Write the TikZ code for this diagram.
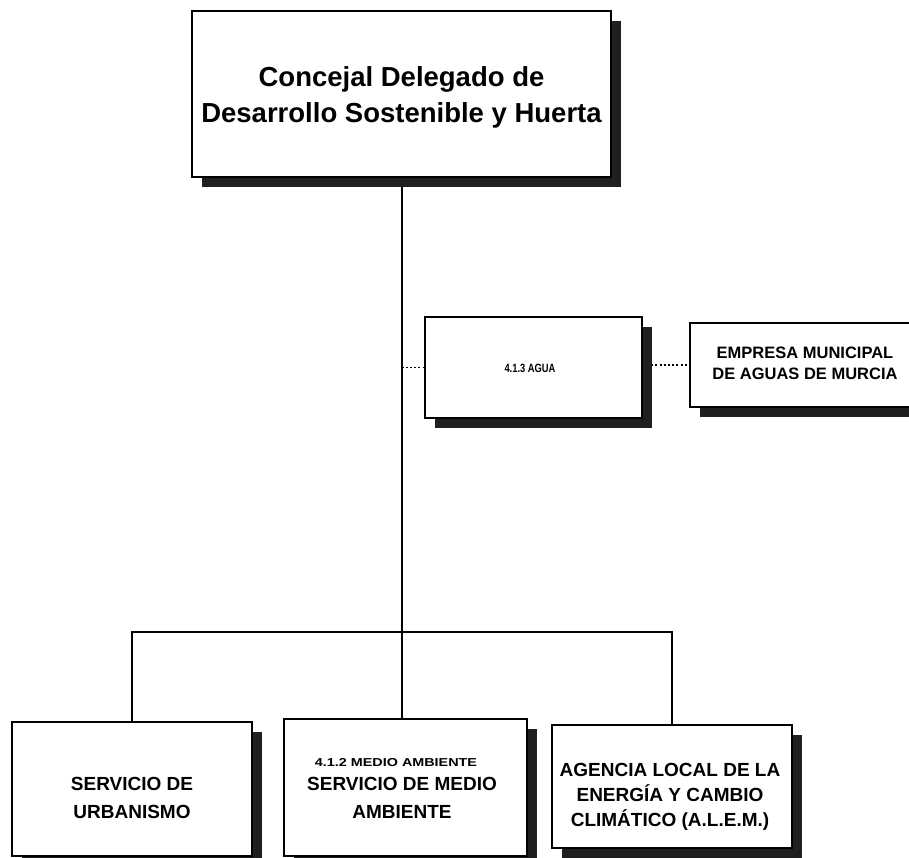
\documentclass[tikz,border=0pt]{standalone}
\usepackage{fontspec}
\usepackage{graphicx}
\setmainfont{Liberation Sans}
\usetikzlibrary{shadows,backgrounds}
\begin{document}
\begin{tikzpicture}[x=1pt,y=-1pt,
  box/.style={draw=black, line width=1.6pt, fill=white, inner sep=0pt,
     drop shadow={shadow xshift=10pt, shadow yshift=-10pt, fill=black!88, opacity=1}},
  txt/.style={inner sep=0pt, align=center, font=\bfseries},
  link/.style={line width=2pt},
  dotlink/.style={line width=1.8pt, dash pattern=on 2pt off 2.2pt}]
\useasboundingbox (0,0) rectangle (909,858);
\clip (0,0) rectangle (909,858);

% boxes
\node[box, minimum width=419pt, minimum height=166pt] (top) at (401.5,94) {};
\node[box, minimum width=217pt, minimum height=101pt] (agua) at (533.5,367.5) {};
\node[box, minimum width=226pt, minimum height=84pt] (emp) at (803,365) {};
\node[box, minimum width=240pt, minimum height=134pt] (b1) at (132,789) {};
\node[box, minimum width=243pt, minimum height=137pt] (b2) at (405.5,787.5) {};
\node[box, minimum width=240pt, minimum height=123pt] (b3) at (672,786.5) {};

% texts
\node[txt, font=\bfseries\fontsize{27.5}{36}\selectfont] (ttop) at (401.5,97)
  {Concejal Delegado de\\Desarrollo Sostenible y Huerta};
\node[txt, font=\bfseries\fontsize{12}{14}\selectfont] (tagua) at (530,368)
  {\scalebox{0.78}[1]{4.1.3 AGUA}};
\node[txt, font=\bfseries\fontsize{16.5}{21}\selectfont] (temp) at (805,363)
  {EMPRESA MUNICIPAL\\DE AGUAS DE MURCIA};
\node[txt, font=\bfseries\fontsize{19}{28}\selectfont] (tb1) at (132,797.5)
  {SERVICIO DE\\URBANISMO};
\node[txt, font=\bfseries\fontsize{11.5}{14}\selectfont] (tb2a) at (396,763)
  {\scalebox{1.25}[1]{4.1.2 MEDIO AMBIENTE}};
\node[txt, font=\bfseries\fontsize{19}{28}\selectfont] (tb2) at (402,797.5)
  {SERVICIO DE MEDIO\\AMBIENTE};
\node[txt, font=\bfseries\fontsize{19}{25}\selectfont] (tb3) at (670,796.5)
  {AGENCIA LOCAL DE LA\\ENERG\'IA Y CAMBIO\\CLIM\'ATICO (A.L.E.M.)};

% connectors
\coordinate (bus) at (401.5,632);
\begin{pgfonlayer}{background}
\draw[link] (top.south) -- (top.south |- b2.north);
\draw[link] (b1.north) |- (bus) -| (b3.north);
\draw[dotlink] (top.south |- agua.west) -- (agua.west);
\draw[dotlink] (agua.east |- emp.west) -- (emp.west);
\end{pgfonlayer}
\end{tikzpicture}
\end{document}
